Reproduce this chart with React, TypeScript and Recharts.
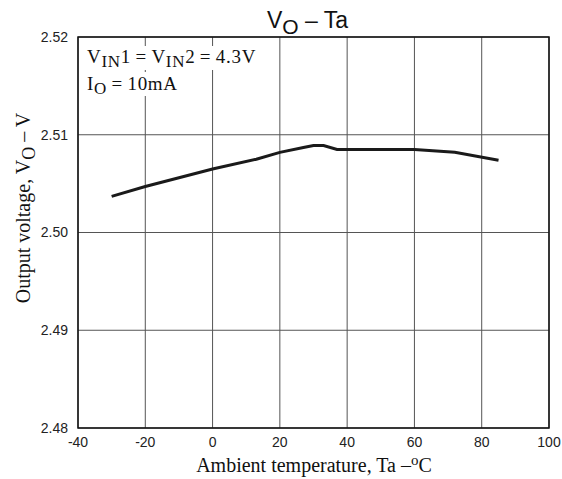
import { LineChart, Line, XAxis, YAxis, CartesianGrid, ReferenceArea, Customized } from 'recharts'

// Ta (°C) and output voltage (V)
const temps = [-30, -20, 0, 13, 20, 27, 30, 33, 37, 60, 72, 85]
const vout = [2.5037, 2.5047, 2.5065, 2.5075, 2.5082, 2.5087, 2.5089, 2.5089, 2.5085, 2.5085, 2.5082, 2.5074]

const xTicks = [-40, -20, 0, 20, 40, 60, 80, 100]
const yTicks = [2.48, 2.49, 2.5, 2.51, 2.52]

const data = temps.map((t, i) => ({ t, v: vout[i] }))

const SANS = '"Liberation Sans", Arial, sans-serif'
const SERIF = '"Liberation Serif", "Times New Roman", serif'
const EQ = '\u2009=\u2009'

const Overlay = () => (
  <g>
    <text x={267} y={28} fontFamily={SANS} fontSize={23} fill="#111">
      V<tspan dy={6} fontSize={21}>O</tspan>
      <tspan dy={-6}> – Ta</tspan>
    </text>
    {/* white backing so the conditions text sits on top of the grid */}
    <rect x={85} y={46} width={172} height={24} fill="#fff" />
    <rect x={85} y={72} width={94} height={24} fill="#fff" />
    <text x={87} y={63} fontFamily={SERIF} fontSize={19} fill="#111" letterSpacing={0.7}>
      V<tspan dy={4} fontSize={17}>IN</tspan>
      <tspan dy={-4}>{`1${EQ}V`}</tspan>
      <tspan dy={4} fontSize={17}>IN</tspan>
      <tspan dy={-4}>{`2${EQ}4.3V`}</tspan>
    </text>
    <text x={87} y={90} fontFamily={SERIF} fontSize={19} fill="#111" letterSpacing={0.7}>
      I<tspan dy={4} fontSize={17}>O</tspan>
      <tspan dy={-4}>{`${EQ}10mA`}</tspan>
    </text>
    <text x={314} y={472} textAnchor="middle" fontFamily={SERIF} fontSize={20} fill="#111">
      Ambient temperature, Ta –<tspan dy={-7} fontSize={15}>o</tspan>
      <tspan dy={7}>C</tspan>
    </text>
    <text
      x={0}
      y={0}
      transform="translate(30, 208) rotate(-90)"
      textAnchor="middle"
      fontFamily={SERIF}
      fontSize={20}
      fill="#111"
    >
      Output voltage, V<tspan dy={5} fontSize={18}>O</tspan>
      <tspan dy={-5}> – V</tspan>
    </text>
  </g>
)

export default function App() {
  return (
    <div style={{ position: 'fixed', left: 0, top: 0, width: 562, height: 479, background: '#fff' }}>
      <LineChart width={562} height={479} data={data} margin={{ top: 37, right: 13, bottom: 0, left: 0 }}>
        <CartesianGrid stroke="#555" strokeWidth={1} />
        <XAxis
          dataKey="t"
          type="number"
          domain={[-40, 100]}
          ticks={xTicks}
          height={51}
          tickLine={false}
          axisLine={false}
          tickMargin={3}
          tick={{ fontFamily: SANS, fontSize: 14, fill: '#222' }}
        />
        <YAxis
          type="number"
          domain={[2.48, 2.52]}
          ticks={yTicks}
          width={78}
          tickLine={false}
          axisLine={false}
          tickMargin={4}
          tickFormatter={(v: number) => v.toFixed(2)}
          tick={{ fontFamily: SANS, fontSize: 14, fill: '#222' }}
        />
        <ReferenceArea x1={-40} x2={100} y1={2.48} y2={2.52} fill="none" stroke="#111" strokeWidth={1.5} />
        <Line
          type="linear"
          dataKey="v"
          stroke="#1a1a1a"
          strokeWidth={3}
          dot={false}
          isAnimationActive={false}
        />
        <Customized component={Overlay} />
      </LineChart>
    </div>
  )
}
